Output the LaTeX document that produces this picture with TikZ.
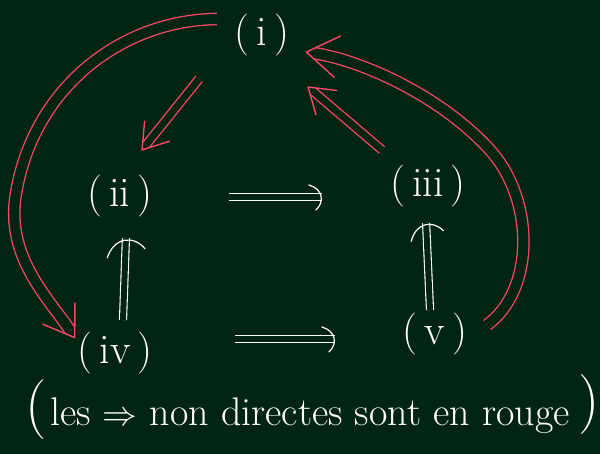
\documentclass[tikz,border=0pt]{standalone}
\usepackage{graphicx}
\usetikzlibrary{decorations.markings}
\definecolor{board}{RGB}{2,36,18}
\definecolor{chalkred}{RGB}{250,72,108}
\tikzset{
  lbl/.style={text=white, inner sep=0pt, font=\fontsize{42}{46}\selectfont},
  whead/.style={postaction={decorate, decoration={markings, mark=at position 0.999 with {
     \draw[draw=white, line width=1.2pt, line cap=round, shorten >=0pt, shorten <=0pt, scale=#1]
       (-15pt,12pt) .. controls (-1pt,8pt) and (1pt,-5pt) .. (-8pt,-13pt);}}}},
  whead/.default=1,
  rhead/.style={postaction={decorate, decoration={markings, mark=at position 0.999 with {
     \draw[draw=chalkred, line width=1.4pt, line cap=round, line join=round, shorten >=0pt, shorten <=0pt, scale=#1]
       (-24pt,16pt) -- (0pt,0pt) -- (-24pt,-16pt);}}}},
  rhead/.default=1,
  whitearr/.style={draw=white, double=board, double distance=6pt, line width=1.1pt, shorten >=2pt},
  redarr/.style={draw=chalkred, double=board, double distance=#1, line width=1.3pt, shorten >=7pt},
  redarr/.default=7pt
}
\begin{document}
\begin{tikzpicture}[x=1pt,y=1pt]
\fill[board] (0,0) rectangle (600,-454);
\useasboundingbox (0,0) rectangle (600,-454);

\node[lbl] (i)   at (262,-35)  {(\,i\,)};
\node[lbl] (ii)  at (120,-196) {(\,ii\,)};
\node[lbl] (iii) at (428,-186) {(\,iii\,)};
\node[lbl] (iv)  at (115,-353) {(\,iv\,)};
\node[lbl] (v)   at (435,-334) {(\,v\,)};

% implications directes (blanches)
\draw[whitearr, whead] ([shift={(109,-1)}]ii.center) -- ([shift={(-104,-11)}]iii.center);
\draw[whitearr, whead] ([shift={(120,14)}]iv.center) -- ([shift={(-98,-5)}]v.center);
\draw[whitearr, whead=1.5] ([shift={(8,33)}]iv.center) -- ([shift={(6,-40)}]ii.center);
\draw[whitearr, whead=1.3] ([shift={(-5,24)}]v.center) -- ([shift={(-2,-35)}]iii.center);

% implications non directes (rouges)
\draw[redarr, rhead] ([shift={(-63,-44)}]i.center) -- ([shift={(22,46)}]ii.center);
\draw[redarr, rhead] ([shift={(-46,36)}]iii.center) -- ([shift={(46,-52)}]i.center);
\draw[redarr=10pt, shorten >=9pt, rhead=1.3] ([shift={(52,9)}]v.center)
   .. controls (535,-290) and (535,-200) .. (490,-150)
   .. controls (440,-95) and (360,-60) .. ([shift={(44,-17)}]i.center);
\draw[redarr=10pt, shorten >=9pt, rhead=1.2] ([shift={(-45,16)}]i.center)
   .. controls (120,-20) and (30,-90) .. (15,-200)
   .. controls (8,-260) and (50,-300) .. ([shift={(-40,15)}]iv.center);

% légende
\node[text=white, inner sep=0pt, font=\fontsize{60}{60}\selectfont] (po) at (36,-410) {(};
\node[text=white, inner sep=0pt, font=\fontsize{40}{46}\selectfont, anchor=base west] (leg) at (50,-425)
  {les \scalebox{1.4}{$\Rightarrow$} non directes sont en rouge};
\node[text=white, inner sep=0pt, font=\fontsize{60}{60}\selectfont] (pf) at (589,-405) {)};
\end{tikzpicture}
\end{document}
